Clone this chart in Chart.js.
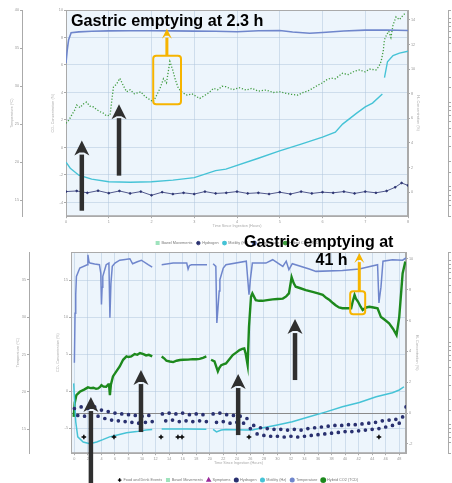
<!DOCTYPE html>
<html>
<head>
<meta charset="utf-8">
<script src="https://cdn.jsdelivr.net/npm/chart.js@4.4.1/dist/chart.umd.min.js"></script>
<style>
  html, body { margin: 0; padding: 0; background: #fff; }
  #page { position: relative; width: 452px; height: 483px; overflow: hidden; }
  canvas { position: absolute; left: 0; }
  #topChart { top: 0; }
  #bottomChart { top: 246px; }
  .note { position: absolute; font-family: "Liberation Sans", Arial, sans-serif; font-weight: bold;
          line-height: 1; color: #000; white-space: nowrap; }
</style>
</head>
<body>
<div id="page">
  <canvas id="topChart" width="476" height="255"></canvas>
  <canvas id="bottomChart" width="476" height="246"></canvas>
  <div class="note" style="left:71px; top:12px; font-size:16.2px">Gastric emptying at 2.3 h</div>
  <div class="note" style="left:244px; top:233.5px; font-size:16px">Gastric emptying at</div>
  <div class="note" style="left:315.5px; top:252px; font-size:16px">41 h</div>
</div>
<script>
// ---- top panel (0-8 h) ----
const topHourTicks = [0, 1, 2, 3, 4, 5, 6, 7, 8];
const topTempTicks = [15, 20, 25, 30, 35, 40];
const topCo2Ticks  = [-4, -2, 0, 2, 4, 6, 8, 10];
const topH2Ticks   = [0, 2, 4, 6, 8, 10, 12, 14];

const topTempHours  = [0, 0.03, 0.06, 0.12, 0.3, 0.6, 1.0, 1.5, 2.0, 2.5, 3.0, 3.5, 4.0, 4.5, 5.0, 5.3, 5.7, 6.0, 6.5, 7.0, 7.5, 8.0];
const topTempValues = [33.0, 34.8, 36.05, 37.0, 37.12, 37.2, 37.25, 37.28, 37.28, 37.25, 37.22, 37.2, 37.15, 37.28, 37.3, 37.1, 36.95, 37.05, 37.25, 37.35, 37.38, 37.3];

const topMotHours  = [0, 0.1, 0.3, 0.6, 1.0, 1.5, 2.0, 2.5, 3.0, 3.5, 3.74, 4.5, 4.98, 5.5, 6.0, 6.3, 6.47, 6.8, 7.0, 7.17, 7.4, 7.42, 7.45, 7.52, 7.65, 7.8, 8.0];
const topMotValues = [2.44, 1.95, 1.38, 1.06, 0.85, 0.81, 0.85, 0.98, 1.18, 1.75, 1.87, 2.76, 3.33, 3.9, 4.47, 4.88, 5.53, 6.42, 6.93, 7.24, 7.97, null, 9.3, 10.6, 11.1, 11.3, 11.45];

const topH2Hours  = [0, 0.25, 0.5, 0.75, 1.0, 1.25, 1.5, 1.75, 2.0, 2.25, 2.5, 2.75, 3.0, 3.25, 3.5, 3.75, 4.0, 4.25, 4.5, 4.75, 5.0, 5.25, 5.5, 5.75, 6.0, 6.25, 6.5, 6.75, 7.0, 7.25, 7.5, 7.7, 7.85, 8.0];
const topH2Values = [0.05, 0.1, -0.05, 0.12, -0.08, 0.1, -0.1, 0.05, -0.25, 0.0, -0.15, -0.05, -0.15, 0.05, -0.1, -0.05, 0.05, -0.1, -0.05, -0.15, 0.0, -0.15, 0.05, -0.1, 0.0, -0.05, 0.05, -0.1, 0.05, -0.05, 0.1, 0.4, 0.75, 0.55];

const topCo2Hours  = [0, 0.07, 0.13, 0.2, 0.25, 0.33, 0.4, 0.48, 0.56, 0.64, 0.72, 0.8, 0.87, 0.95, 1.03, 1.11, 1.18, 1.26, 1.34, 1.42, 1.5, 1.6, 1.75, 1.85, 1.95, 2.04, 2.12, 2.2, 2.28, 2.35, 2.43, 2.5, 2.56, 2.63, 2.72, 2.83, 2.95, 3.05, 3.13, 3.25, 3.35, 3.45, 3.55, 3.65, 3.74, 3.9, 4.05, 4.21, 4.35, 4.5, 4.68, 4.85, 5.0, 5.15, 5.3, 5.42, 5.55, 5.65, 5.77, 5.9, 6.0, 6.08, 6.2, 6.3, 6.47, 6.6, 6.75, 6.86, 7.0, 7.1, 7.25, 7.32, 7.37, 7.42, 7.45, 7.5, 7.55, 7.6, 7.65, 7.72, 7.8, 7.88, 7.95];
const topCo2Values = [1.76, 2.0, 2.34, 2.7, 3.08, 2.9, 3.15, 3.3, 3.0, 2.95, 2.75, 2.6, 2.5, 2.3, 2.34, 4.4, 4.6, 5.03, 4.5, 4.05, 4.2, 3.9, 4.05, 3.7, 3.5, 3.32, 3.8, 4.3, 5.0, 4.7, 6.25, 5.6, 4.9, 4.3, 4.0, 3.81, 3.9, 3.7, 3.57, 3.8, 4.0, 4.3, 4.2, 4.45, 4.42, 4.2, 4.35, 4.18, 4.3, 4.1, 4.18, 4.0, 4.05, 3.93, 3.85, 3.81, 4.0, 4.1, 4.3, 4.55, 4.7, 4.9, 5.05, 5.0, 5.4, 5.3, 5.55, 5.64, 5.5, 5.7, 5.64, 5.9, 6.25, 7.0, 7.84, 8.2, 8.45, 8.0, 8.9, 9.5, 9.3, 9.6, 9.8];

// ---- bottom panel (0-48 h) ----
const botHourTicks = [0, 2, 4, 6, 8, 10, 12, 14, 16, 18, 20, 22, 24, 26, 28, 30, 32, 34, 36, 38, 40, 42, 44, 46, 48];
const botTempTicks = [15, 20, 25, 30, 35];
const botCo2Ticks  = [-5, 0, 5, 10, 15];
const botH2Ticks   = [-2, 0, 2, 4, 6, 8, 10];

const botTempHours  = [0, 0.1, 0.2, 0.3, 0.8, 1.9, 2.0, 2.15, 2.3, 3.0, 3.7, 3.9, 4.0, 4.1, 4.2, 4.7, 5.1, 5.25, 5.4, 5.6, 6.0, 6.7, 7.5, 8.2, 8.6, 9.3, 9.9, 10.9, 11.5, 11.6, 12.9, 14.6, 16.6, 16.8, 17.0, 17.3, 19.6, 19.7, 20.5, 20.9, 21.05, 21.2, 21.4, 21.5, 22.0, 22.4, 25.4, 25.8, 26.0, 26.3, 28.3, 29.3, 30.8, 31.3, 31.7, 32.2, 34.7, 35.7, 39.6, 42.1, 44.8, 45.0, 45.3, 45.6, 47.0, 48.5, 49.0];
const botTempValues = [23.9, 30.5, 33.0, 35.44, 36.56, 37.0, 38.33, 37.4, 37.22, 37.1, 37.0, 35.89, 31.67, 34.0, 35.44, 37.0, 37.22, 29.9, 34.5, 36.78, 37.22, 37.6, 37.7, 37.8, 37.13, 37.4, 37.6, 37.0, 36.69, null, 37.0, 37.22, 37.22, 36.42, 36.9, 37.0, 37.0, null, 37.13, 36.78, 29.2, 31.0, 33.5, 35.0, 36.56, 37.0, 37.47, 33.0, 35.0, 37.22, 37.22, 37.67, 36.78, 37.47, 36.33, 37.13, 36.42, 36.11, 36.24, 36.42, 37.0, 31.9, 34.0, 37.47, 37.67, 37.6, 37.9];

const botMotHours  = [-0.1, 0, 0.2, 0.5, 1.3, 2.3, 3.3, 4.2, 5.2, 6.2, 7.7, 9.2, 10.6, 11.5, 11.6, 12.9, 16.6, 19.5, 19.6, 20.5, 21.0, 21.7, 22.4, 25.4, 26.3, 27.3, 29.8, 32.2, 34.7, 37.2, 39.6, 42.1, 44.6, 47.0, 48.0, 48.7];
const botMotValues = [1.93, 1.06, -0.56, -1.54, -1.87, -1.98, -1.87, -1.72, -1.54, -1.43, -1.28, -1.2, -1.1, -1.06, null, -1.03, -1.03, -1.05, null, -1.06, -1.22, -1.1, -1.06, -1.1, -1.1, -1.0, -0.78, -0.56, -0.24, 0.08, 0.41, 0.69, 1.06, 1.32, 1.5, 1.71];

const botH2Hours  = [0, 0.5, 1, 1.5, 2, 2.5, 3, 3.5, 4, 4.5, 5, 5.5, 6, 6.5, 7, 7.5, 8, 8.5, 9, 9.5, 10, 10.5, 11, 11.5, 12, 13, 13.5, 14, 14.5, 15, 15.5, 16, 16.5, 17, 17.5, 18, 18.5, 19, 19.5, 20, 20.5, 21, 21.5, 22, 22.5, 23, 23.5, 24, 24.5, 25, 25.5, 26, 26.5, 27, 27.5, 28, 28.5, 29, 29.5, 30, 30.5, 31, 31.5, 32, 32.5, 33, 33.5, 34, 34.5, 35, 35.5, 36, 36.5, 37, 37.5, 38, 38.5, 39, 39.5, 40, 40.5, 41, 41.5, 42, 42.5, 43, 43.5, 44, 44.5, 45, 45.5, 46, 46.5, 47, 47.5, 48, 48.5, 49];
const botH2Values = [0.3, -0.15, 0.4, -0.2, 0.3, -0.05, 0.4, -0.2, 0.2, -0.35, 0.1, -0.45, 0.0, -0.5, -0.05, -0.55, -0.1, -0.6, -0.15, -0.65, -0.2, -0.6, -0.15, -0.55, null, -0.05, -0.5, 0.0, -0.45, -0.05, -0.55, 0.0, -0.5, -0.1, -0.55, -0.05, -0.5, -0.1, -0.55, null, -0.05, -0.6, 0.0, -0.55, -0.1, -0.65, -0.15, -0.6, -0.2, -0.65, -0.35, -1.0, -0.8, -1.35, -0.95, -1.45, -1.0, -1.5, -1.05, -1.5, -1.05, -1.55, -1.1, -1.5, -1.05, -1.55, -1.1, -1.5, -1.0, -1.45, -0.95, -1.4, -0.9, -1.35, -0.85, -1.3, -0.8, -1.25, -0.8, -1.2, -0.75, -1.2, -0.75, -1.15, -0.7, -1.1, -0.65, -1.05, -0.6, -1.0, -0.5, -0.9, -0.45, -0.8, -0.4, -0.65, -0.25, 0.4];

const botCo2Hours  = [-0.1, 0.05, 0.3, 0.8, 1.5, 2.0, 2.4, 2.8, 3.2, 3.5, 3.8, 4.0, 4.3, 4.7, 5.0, 5.1, 5.25, 5.4, 5.7, 6.2, 6.7, 7.2, 7.7, 8.0, 8.4, 8.9, 9.3, 9.7, 10.2, 10.6, 11.0, 11.5, 11.6, 12.9, 13.3, 13.6, 14.1, 14.6, 15.1, 15.6, 16.1, 16.8, 17.5, 18.0, 18.5, 19.0, 19.5, 19.6, 20.2, 20.7, 21.0, 21.2, 21.4, 21.7, 22.0, 22.4, 22.9, 23.4, 23.9, 24.4, 24.8, 25.1, 25.3, 25.6, 25.8, 26.1, 26.3, 26.8, 27.3, 27.8, 28.5, 29.3, 30.0, 30.8, 31.3, 31.7, 32.1, 32.4, 32.7, 33.4, 34.2, 35.2, 36.0, 36.7, 37.2, 37.7, 38.2, 38.6, 39.1, 39.6, 40.2, 40.9, 41.1, 41.4, 41.6, 41.9, 42.3, 42.6, 43.1, 43.6, 44.2, 44.8, 45.3, 45.9, 46.5, 47.1, 47.6, 48.0, 48.3, 48.5, 48.9];
const botCo2Values = [-3.5, -1.6, -0.54, -0.1, 0.23, 0.5, 0.4, 0.45, 0.3, 0.36, 0.55, 0.8, 0.6, 0.59, 0.9, 1.04, -0.54, 0.9, 1.98, 2.66, 3.33, 4.23, 4.68, 4.6, 4.68, 5.0, 4.9, 5.14, 5.0, 4.82, 4.9, 4.68, null, 4.68, 4.4, 4.1, 4.0, 3.92, 4.1, 4.2, 4.23, 4.25, 4.32, 4.3, 4.35, 4.5, 4.68, null, 4.23, 4.0, 3.2, 2.66, 3.1, 3.5, 3.6, 3.74, 4.3, 4.86, 5.2, 5.54, 5.7, 5.77, 5.1, 3.51, 8.7, 12.75, 13.2, 12.3, 12.2, 12.2, 12.3, 12.4, 12.45, 12.5, 12.8, 13.2, 15.4, 14.6, 14.1, 13.9, 13.65, 13.4, 13.2, 13.0, 12.6, 12.3, 11.9, 11.6, 11.3, 11.2, 11.2, 11.2, 12.0, 13.0, 12.5, 12.1, 11.4, 10.95, 11.3, 11.4, 11.3, 11.2, 10.0, 9.6, 9.15, 8.4, 7.57, 10.0, 13.5, 15.9, 17.5];

const foodHours  = [1.4, 5.85, 12.8, 15.3, 15.9, 25.8, 45.0];
const foodValues = [-6.2, -6.2, -6.2, -6.2, -6.2, -6.2, -6.2];

// annotations, in hours and CO2 axis units
const topArrows = [
  { h: 0.37, from: -4.6, to: 0.5, kind: 'dark' },
  { h: 1.24, from: -2.05, to: 3.15, kind: 'dark' },
  { h: 2.36, from: 6.67, to: 8.64, kind: 'gold' },
];
const topBoxes = [{ h0: 2.04, h1: 2.69, v0: 3.15, v1: 6.67 }];
const botArrows = [
  { h: 2.44, from: -13.4, to: -0.81, kind: 'dark' },
  { h: 9.84, from: -5.54, to: 2.84, kind: 'dark' },
  { h: 24.2, from: -5.95, to: 2.3, kind: 'dark' },
  { h: 32.6, from: 1.49, to: 9.73, kind: 'dark' },
  { h: 42.1, from: 13.5, to: 18.65, kind: 'gold' },
];
const botBoxes = [{ h0: 40.75, h1: 42.97, v0: 10.4, v1: 13.5 }];

const C = {
  temp: '#6f86cc', h2: '#2a3170', mot: '#46c3d6', co2Top: '#3f9c3f', co2: '#1d891d',
  grid: 'rgba(175,198,220,0.5)', axis: '#aaa', bg: '#edf5fc', dark: '#2f2f2f', gold: '#f6b400',
};

Chart.defaults.font.family = '"Liberation Sans", Arial, sans-serif';
Chart.defaults.font.size = 3.8;
Chart.defaults.color = '#999';

function pts(hours, values) {
  return hours.map((h, i) => ({ x: h, y: values[i] }));
}

const plotBg = {
  id: 'plotBg',
  beforeDraw(chart) {
    const { ctx, chartArea: a } = chart;
    ctx.save();
    ctx.fillStyle = C.bg;
    ctx.fillRect(a.left, a.top, a.width, a.height);
    ctx.restore();
  },
  beforeDatasetsDraw(chart) {
    const { ctx, chartArea: a } = chart;
    ctx.save();
    ctx.strokeStyle = C.axis;
    ctx.lineWidth = 1;
    ctx.strokeRect(a.left + 0.5, a.top + 0.5, a.width - 1, a.height - 1);
    ctx.restore();
  },
};

// arrows + boxes placed through the x and co2 scales
const marks = {
  id: 'marks',
  afterDatasetsDraw(chart, args, opts) {
    const { ctx, scales } = chart;
    const sx = scales.x, sy = scales.co2;
    ctx.save();
    (opts.boxes || []).forEach(b => {
      const x0 = sx.getPixelForValue(b.h0), x1 = sx.getPixelForValue(b.h1);
      const y0 = sy.getPixelForValue(b.v1), y1 = sy.getPixelForValue(b.v0);
      ctx.strokeStyle = C.gold;
      ctx.lineWidth = 2;
      ctx.beginPath();
      ctx.roundRect(x0, y0, x1 - x0, y1 - y0, 3);
      ctx.stroke();
    });
    (opts.arrows || []).forEach(a => {
      const gold = a.kind === 'gold';
      const shaft = gold ? 3 : 4.5, headW = gold ? 10 : 15, headH = gold ? 10 : 15;
      const x = sx.getPixelForValue(a.h);
      const yTail = sy.getPixelForValue(a.from), yTip = sy.getPixelForValue(a.to);
      ctx.fillStyle = gold ? C.gold : C.dark;
      ctx.fillRect(x - shaft / 2, yTip + headH - 1, shaft, yTail - yTip - headH + 1);
      ctx.beginPath();
      ctx.moveTo(x, yTip);
      ctx.lineTo(x + headW / 2, yTip + headH);
      ctx.lineTo(x + shaft / 2, yTip + headH - 3);
      ctx.lineTo(x - shaft / 2, yTip + headH - 3);
      ctx.lineTo(x - headW / 2, yTip + headH);
      ctx.closePath();
      ctx.fill();
    });
    ctx.restore();
  },
};

function valueAxis(o) {
  return {
    type: 'linear',
    position: o.position,
    weight: o.weight,
    min: o.min,
    max: o.max,
    afterBuildTicks: s => { s.ticks = o.ticks.map(v => ({ value: v })); },
    afterFit: s => { s.width = o.width; },
    ticks: { padding: 1, color: '#999' },
    grid: { drawOnChartArea: !!o.grid, color: o.grid || 'transparent', tickLength: 2, tickColor: C.axis },
    border: { color: C.axis },
    title: { display: true, text: o.title, color: '#aaa', padding: { top: o.titlePad, bottom: 0 } },
  };
}

function motAxis() {
  return {
    type: 'logarithmic', position: 'right', weight: 2, min: 0.0045, max: 1.26,
    afterFit: s => { s.width = 28; },
    ticks: { autoSkip: false, padding: 1, color: '#999', callback: v => v.toFixed(3) },
    grid: { drawOnChartArea: false, tickLength: 3, tickColor: C.axis },
    border: { color: C.axis },
  };
}

function timeAxis(min, max, ticks) {
  return {
    type: 'linear', min, max,
    afterBuildTicks: s => { s.ticks = ticks.map(v => ({ value: v })); },
    afterFit: s => { s.height = 21; },
    ticks: { padding: 1, color: '#999' },
    grid: { color: C.grid, tickLength: 2, tickColor: C.axis },
    border: { color: C.axis },
    title: { display: true, text: 'Time Since Ingestion (Hours)', color: '#aaa', padding: { top: 0, bottom: 8.8 } },
  };
}

const legendOpts = {
  position: 'bottom',
  labels: { usePointStyle: true, boxHeight: 2.5, padding: 4, color: '#777', font: { size: 3.8 } },
};

function line(label, color, axis, data, extra) {
  return Object.assign({
    label, data, yAxisID: axis, borderColor: color, backgroundColor: color,
    borderWidth: 1.5, pointRadius: 0, pointStyle: 'circle', spanGaps: false, tension: 0,
  }, extra || {});
}

new Chart(document.getElementById('topChart'), {
  type: 'line',
  data: {
    datasets: [
      line('Bowel Movements', '#9fe3bd', 'h2', [], { pointStyle: 'rect' }),
      line('Hydrogen', C.h2, 'h2', pts(topH2Hours, topH2Values), { borderWidth: 0.8, pointRadius: 0.9 }),
      line('Motility (Hz)', C.mot, 'h2', pts(topMotHours, topMotValues), { borderWidth: 1.4 }),
      line('Temperature', C.temp, 'temp', pts(topTempHours, topTempValues), { borderWidth: 1.6 }),
      line('Hybrid CO2 (TCD)', C.co2Top, 'co2', pts(topCo2Hours, topCo2Values), { borderWidth: 1.3, borderDash: [1.2, 1.8] }),
    ],
  },
  options: {
    responsive: false, animation: false, devicePixelRatio: 1, events: [],
    layout: { padding: { top: 10, left: 0, right: 0, bottom: 0 } },
    plugins: { legend: legendOpts, tooltip: { enabled: false }, marks: { arrows: topArrows, boxes: topBoxes } },
    scales: {
      x: timeAxis(0, 8, topHourTicks),
      temp: valueAxis({ position: 'left', weight: 2, min: 12.9, max: 40, ticks: topTempTicks, width: 22, title: 'Temperature (°C)', titlePad: 9.7 }),
      co2: valueAxis({ position: 'left', weight: 1, min: -5, max: 10, ticks: topCo2Ticks, width: 44, title: 'CO₂ Concentration (%)', titlePad: 28.2, grid: C.grid }),
      h2: valueAxis({ position: 'right', weight: 1, min: -1.95, max: 14.8, ticks: topH2Ticks, width: 40, title: 'H₂ Concentration (%)', titlePad: 27.7 }),
      mot: motAxis(),
    },
  },
  plugins: [plotBg, marks],
});

new Chart(document.getElementById('bottomChart'), {
  type: 'line',
  data: {
    datasets: [
      line('Food and Drink Events', '#000', 'co2', pts(foodHours, foodValues), { showLine: false, pointStyle: 'cross', pointRadius: 2.3, borderWidth: 1.4 }),
      line('Bowel Movements', '#9fe3bd', 'h2', [], { pointStyle: 'rect' }),
      line('Symptoms', '#9a2c9a', 'h2', [], { pointStyle: 'triangle' }),
      line('Hydrogen', C.h2, 'h2', pts(botH2Hours, botH2Values), { showLine: false, pointRadius: 1.1 }),
      line('Motility (Hz)', C.mot, 'h2', pts(botMotHours, botMotValues), { borderWidth: 1.5 }),
      line('Temperature', C.temp, 'temp', pts(botTempHours, botTempValues), { borderWidth: 1.5 }),
      line('Hybrid CO2 (TCD)', C.co2, 'co2', pts(botCo2Hours, botCo2Values), { borderWidth: 2.4 }),
    ],
  },
  options: {
    responsive: false, animation: false, devicePixelRatio: 1, events: [],
    layout: { padding: { top: 6, left: 0, right: 0, bottom: 0 } },
    plugins: { legend: legendOpts, tooltip: { enabled: false }, marks: { arrows: botArrows, boxes: botBoxes } },
    scales: {
      x: timeAxis(-0.5, 49, botHourTicks),
      temp: valueAxis({ position: 'left', weight: 2, min: 11.8, max: 38.7, ticks: botTempTicks, width: 29, title: 'Temperature (°C)', titlePad: 15.7 }),
      co2: valueAxis({ position: 'left', weight: 1, min: -8.4, max: 18.8, ticks: botCo2Ticks, width: 42, title: 'CO₂ Concentration (%)', titlePad: 26.7, grid: C.grid }),
      h2: valueAxis({ position: 'right', weight: 1, min: -2.6, max: 10.45, ticks: botH2Ticks, width: 42, title: 'H₂ Concentration (%)', titlePad: 28.7,
                      grid: c => (c.tick && c.tick.value === 0 ? '#8a8a8a' : 'rgba(0,0,0,0)') }),
      mot: motAxis(),
    },
  },
  plugins: [plotBg, marks],
});
</script>
</body>
</html>
